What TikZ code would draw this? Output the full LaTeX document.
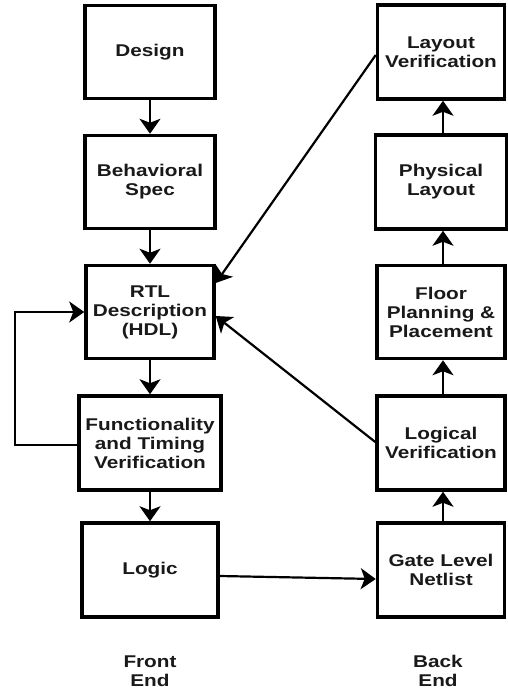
\documentclass[tikz,border=0pt]{standalone}
\usepackage{fontspec}
\setmainfont{Liberation Sans}[FakeStretch=1.22]
\usetikzlibrary{arrows.meta}
\begin{document}
\begin{tikzpicture}[x=1pt,y=-1pt,
  stage/.style={draw=black, line width=3.5pt, fill=white, rectangle, align=center,
    minimum width=130pt, minimum height=93pt, inner sep=0pt,
    font=\fontsize{17pt}{19pt}\selectfont\bfseries, text=black!90},
  lbl/.style={align=center, inner sep=0pt, font=\fontsize{17pt}{19pt}\selectfont\bfseries, text=black!90},
  arr/.style={draw=black, line width=2.2pt, -{Stealth[length=15pt 0,width=21pt 0,inset=4pt 0]}}]
\useasboundingbox (0,0) rectangle (508,689);
% left column
\node[stage] (design) at (150,52) {Design};
\node[stage] (behav) at (150,182) {Behavioral\\Spec};
\node[stage, minimum width=128pt] (rtl) at (150,312) {RTL\\Description\\(HDL)};
\node[stage, minimum width=142pt, minimum height=94pt] (func) at (150,443) {Functionality\\and Timing\\Verification};
\node[stage, minimum width=136pt, minimum height=94pt] (logic) at (150,570) {Logic};
% right column
\node[stage, minimum width=127pt, minimum height=94pt] (layv) at (441,52) {Layout\\Verification};
\node[stage, minimum width=131pt, minimum height=94pt] (phys) at (441,182) {Physical\\Layout};
\node[stage, minimum width=128pt] (floor) at (441,312) {Floor\\Planning \&\\Placement};
\node[stage, minimum width=128pt, minimum height=94pt] (logv) at (441,443) {Logical\\Verification};
\node[stage, minimum width=127pt, minimum height=94pt] (gate) at (441,570) {Gate Level\\Netlist};
% labels
\node[lbl] (fe) at (150,671) {Front\\End};
\node[lbl] (be) at (438,671) {Back\\End};
% arrows left
\draw[arr] (design.south) -- (behav.north);
\draw[arr] (behav.south) -- (rtl.north);
\draw[arr] (rtl.south) -- (func.north);
\draw[arr] (func.south) -- (logic.north);
\draw[arr] ([yshift=-2pt]func.west) -- ++(-62pt,0) |- (rtl.west);
% arrows right
\draw[arr] ([xshift=2pt]gate.north) -- ([xshift=2pt]logv.south);
\draw[arr] ([xshift=2pt]logv.north) -- ([xshift=2pt]floor.south);
\draw[arr] ([xshift=2pt]floor.north) -- ([xshift=2pt]phys.south);
\draw[arr] ([xshift=2pt]phys.north) -- ([xshift=2pt]layv.south);
% cross arrows
\draw[arr] ([yshift=-6pt]logic.east) -- ([yshift=-9pt]gate.west);
\draw[arr] ([yshift=-3pt]layv.west) -- ([yshift=29pt]rtl.east);
\draw[arr] ([yshift=1pt]logv.west) -- ([yshift=-4pt]rtl.east);
\end{tikzpicture}
\end{document}
